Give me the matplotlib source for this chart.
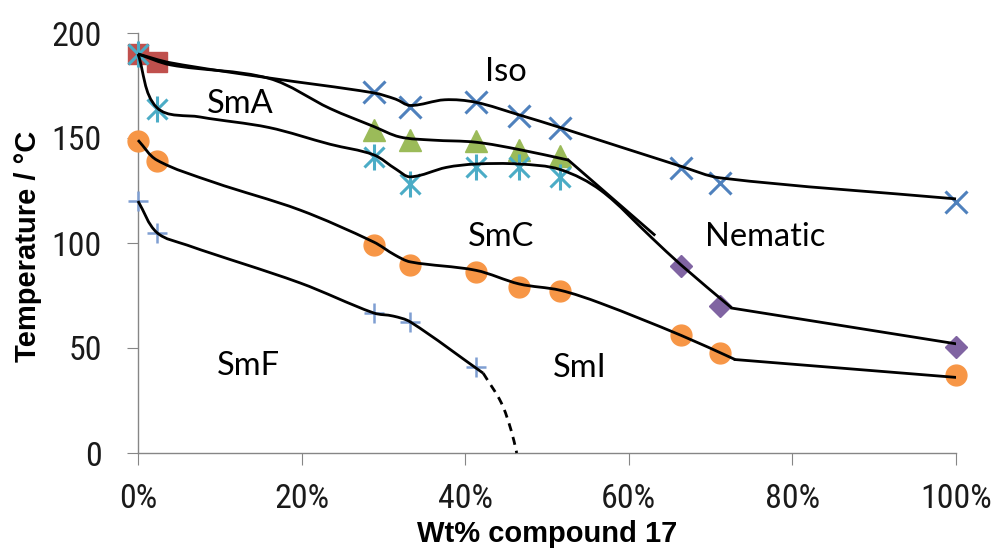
import numpy as np
import matplotlib
matplotlib.use("Agg")
import matplotlib.pyplot as plt
from matplotlib.path import Path
from matplotlib.patches import PathPatch
from matplotlib.ticker import FuncFormatter
from matplotlib import font_manager

# ---------------- data ----------------
# measured transition points (wt% compound 17, temperature / degC)
iso_x = [28.8, 33.3, 41.3, 46.6, 51.6, 66.4, 71.2, 100]
iso_T = [172, 165, 167, 160.5, 155, 135.7, 128.6, 119.5]

sq_x = [0, 2.3]
sq_T = [190, 186]

tri_x = [28.8, 33.3, 41.3, 46.6, 51.6]
tri_T = [154, 149, 148.5, 144.5, 141.4]

ast_x = [0, 2.3, 28.8, 33.3, 41.3, 46.6, 51.6]
ast_T = [190, 164, 141, 128, 136, 136, 131.5]

dia_x = [66.4, 71.2, 100]
dia_T = [89, 70, 50.5]

cir_x = [0, 2.3, 28.8, 33.3, 41.3, 46.6, 51.6, 66.4, 71.2, 100]
cir_T = [148.5, 139, 99, 89.5, 86, 79, 77, 56, 47.6, 37]

plus_x = [0, 2.3, 28.8, 33.3, 41.3]
plus_T = [120, 105, 66.5, 62.4, 41]

# hand-drawn phase boundary curves
b_iso_x = [0, 4, 16, 28.8, 31.5, 33.3, 37.5, 41.3, 46.6, 51.6, 66.4, 71.2, 100]
b_iso_T = [190, 185.8, 178.6, 171.5, 168.5, 165.5, 168.2, 167, 161, 155, 136.5, 131, 121]

b_ac_x = [0, 4, 16, 23.5, 28.8, 32, 36, 41.3, 46.6, 52.6]
b_ac_T = [190, 184.8, 178.4, 164, 155.5, 150.5, 149, 148, 144.5, 139.5]
b_ac_tail_x = [52.6, 63.1]
b_ac_tail_T = [139.5, 104]

b_c_x = [0, 2.3, 7.6, 16, 23.5, 28.8, 31.6, 33.3, 37.7, 41.3, 46.6, 51.6, 56.6, 62.8, 66.4, 72.6]
b_c_T = [190, 164.5, 160, 155, 147, 142, 135, 131.5, 136, 137.6, 137.6, 135, 125, 102.5, 89.5, 69]
b_c_tail_x = [72.6, 100]
b_c_tail_T = [69, 52]

b_i_x = [0, 2.3, 9.2, 19.8, 28.8, 31.4, 33.3, 41.3, 46.6, 51.6, 56.5, 66.4, 73]
b_i_T = [149, 139.5, 129, 115.7, 100.5, 94.3, 91, 87, 80.5, 77.5, 71.4, 56, 44.5]
b_i_tail_x = [73, 100]
b_i_tail_T = [44.5, 36]

b_f_x = [0, 2.3, 6, 19.8, 28.8, 31.2, 33.3, 42.2]
b_f_T = [120, 105, 99, 81, 66.7, 65.2, 62.4, 38]

b_f_dash_x = [42.2, 44.4, 45.6, 46.3]
b_f_dash_T = [38, 24, 11, 0]

region_labels = ["Iso", "SmA", "SmC", "Nematic", "SmF", "SmI"]
region_x = [45.0, 12.5, 44.4, 76.7, 13.5, 54.0]
region_T = [181.5, 166, 103, 103, 41.5, 40.5]

x_ticks = [0, 20, 40, 60, 80, 100]
y_ticks = [0, 50, 100, 150, 200]

# ---------------- fonts ----------------
available = {f.name for f in font_manager.fontManager.ttflist}


def pick(cands):
    for c in cands:
        if c in available:
            return c
    return 'DejaVu Sans'


narrow = pick(['Liberation Sans Narrow', 'Arial Narrow', 'DejaVu Sans Condensed',
               'Roboto Condensed', 'Liberation Sans'])
tick_font = [narrow, 'DejaVu Sans']
tick_size = 26 if narrow in ('Liberation Sans Narrow', 'Arial Narrow') else 24.5
label_font = ['Liberation Sans', 'DejaVu Sans']
region_font = ['Lato', 'DejaVu Sans']
grey = '#868686'

# ---------------- figure ----------------
W, H = 1002, 554
fig = plt.figure(figsize=(W / 100, H / 100), dpi=100)
ax = fig.add_axes([138 / W, 1 - 453 / H, (956 - 138) / W, (453 - 33) / H])
ax.set_xlim(0, 100)
ax.set_ylim(0, 200)

for s in ['top', 'right']:
    ax.spines[s].set_visible(False)
for s in ['left', 'bottom']:
    ax.spines[s].set_color(grey)
    ax.spines[s].set_linewidth(1.0)

ax.set_xticks(x_ticks)
ax.set_yticks(y_ticks)
ax.xaxis.set_major_formatter(FuncFormatter(lambda v, p: f"{v:.0f}%"))
ax.tick_params(axis='y', direction='out', length=8, color=grey, pad=18,
               labelsize=tick_size)
ax.tick_params(axis='x', direction='out', length=8.5, color=grey, pad=13,
               labelsize=tick_size)
for lab in ax.get_xticklabels() + ax.get_yticklabels():
    lab.set_family(tick_font)
    lab.set_color('#1a1a1a')

# markers
mk = dict(linestyle='none', zorder=3, clip_on=False)
ax.plot(iso_x, iso_T, marker='x', ms=16, mew=2.2, color='#4F81BD', **mk)
ax.plot(sq_x, sq_T, marker='s', ms=15, color='#C0504D', mec='#C0504D', **mk)
ax.plot(tri_x, tri_T, marker='^', ms=16, color='#9BBB59', mec='#9BBB59', **mk)
ax.plot(ast_x, ast_T, marker='x', ms=15, mew=2.2, color='#4BACC6', **mk)
ax.plot(ast_x, ast_T, marker='|', ms=19, mew=2.2, color='#4BACC6', **mk)
ax.plot(dia_x, dia_T, marker='D', ms=11.5, color='#8064A2', mec='#8064A2', **mk)
ax.plot(cir_x, cir_T, marker='o', ms=15, color='#F79646', mec='#F79646', **mk)
ax.plot(plus_x, plus_T, marker='+', ms=15, mew=1.8, color='#7F9FD2', **mk)

fig.canvas.draw()
to_px = ax.transData
to_data = ax.transData.inverted()


def smooth_curve(xs, ys, **kw):
    pts = to_px.transform(np.column_stack([xs, ys]))
    n = len(pts)
    tang = []
    for i in range(n):
        a = pts[max(i - 1, 0)]
        b = pts[min(i + 1, n - 1)]
        d = b - a
        tang.append(d / np.hypot(*d))
    verts = [pts[0]]
    codes = [Path.MOVETO]
    for i in range(n - 1):
        p1, p2 = pts[i], pts[i + 1]
        L = np.hypot(*(p2 - p1)) / 3.0
        verts += [p1 + tang[i] * L, p2 - tang[i + 1] * L, p2]
        codes += [Path.CURVE4] * 3
    verts = to_data.transform(np.array(verts))
    ax.add_patch(PathPatch(Path(verts, codes), fill=False, zorder=4,
                           capstyle='butt', clip_on=False, **kw))


lw = 2.0
smooth_curve(b_iso_x, b_iso_T, lw=lw, ec='black')
smooth_curve(b_ac_x, b_ac_T, lw=lw, ec='black')
smooth_curve(b_c_x, b_c_T, lw=lw, ec='black')
smooth_curve(b_i_x, b_i_T, lw=lw, ec='black')
smooth_curve(b_f_x, b_f_T, lw=lw, ec='black')
smooth_curve(b_f_dash_x, b_f_dash_T, lw=lw, ec='black', linestyle=(0, (2.9, 2.2)))
ax.plot(b_ac_tail_x, b_ac_tail_T, color='black', lw=lw, zorder=4)
ax.plot(b_c_tail_x, b_c_tail_T, color='black', lw=lw, zorder=4)
ax.plot(b_i_tail_x, b_i_tail_T, color='black', lw=lw, zorder=4)

for t, x, y in zip(region_labels, region_x, region_T):
    ax.text(x, y, t, ha='center', va='center', fontsize=23.5,
            family=region_font, color='black', zorder=5)

fig.text(547 / W, 1 - 542 / H, "Wt% compound 17", ha='center', va='baseline',
         fontsize=21, fontweight='bold', family=label_font)
fig.text(28 / W, 1 - 246 / H, "Temperature / °C", ha='center', va='center',
         rotation=90, fontsize=21, fontweight='bold', family=label_font)

fig.savefig("out.png", dpi=100)
